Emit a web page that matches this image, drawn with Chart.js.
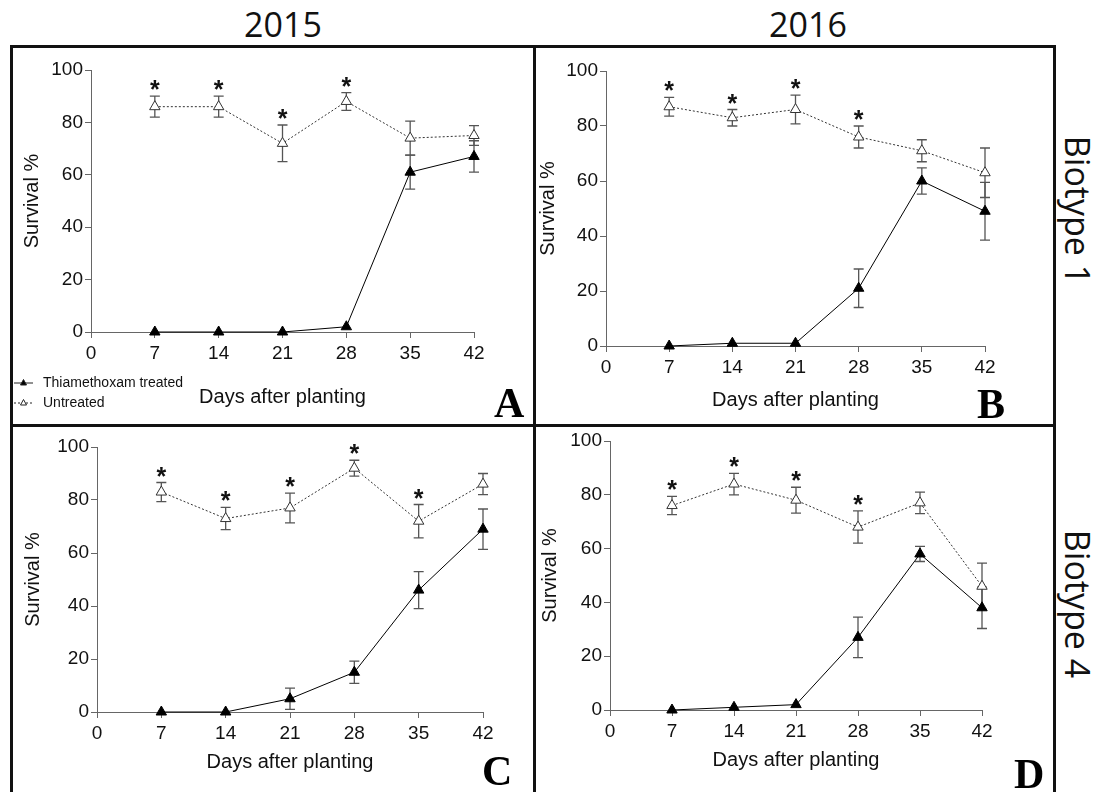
<!DOCTYPE html>
<html>
<head>
<meta charset="utf-8">
<script src="https://cdn.jsdelivr.net/npm/chart.js@4/dist/chart.umd.min.js"></script>
<style>
  body { margin: 0; background: #fff; width: 1099px; height: 792px; overflow: hidden; position: relative; }
  canvas { position: absolute; }
  .line { position: absolute; background: #111; }
  .head { position: absolute; font-family: "Open Sans", sans-serif; font-size: 34px; color: #111; }
  .side { position: absolute; font-family: "Open Sans", sans-serif; font-size: 34px; color: #111;
          transform: translate(-50%, -50%) rotate(90deg); white-space: nowrap; }
  .letter { position: absolute; font-family: "Liberation Serif", serif; font-weight: bold; font-size: 42px; color: #000; }
</style>
</head>
<body>
<div class="head" style="left:283px; top:24px; transform:translate(-50%,-50%)">2015</div>
<div class="head" style="left:808px; top:24px; transform:translate(-50%,-50%)">2016</div>
<div class="side" style="left:1078px; top:210px">Biotype 1</div>
<div class="side" style="left:1078px; top:604px">Biotype 4</div>

<canvas id="cA" width="519" height="375" style="left:13px; top:48px"></canvas>
<canvas id="cB" width="516" height="375" style="left:536px; top:48px"></canvas>
<canvas id="cC" width="519" height="365" style="left:13px; top:427px"></canvas>
<canvas id="cD" width="516" height="365" style="left:536px; top:427px"></canvas>

<div class="line" style="left:10px; top:45px; width:1046px; height:3px"></div>
<div class="line" style="left:10px; top:45px; width:3px; height:760px"></div>
<div class="line" style="left:1053px; top:45px; width:3px; height:760px"></div>
<div class="line" style="left:533px; top:45px; width:3px; height:760px"></div>
<div class="line" style="left:10px; top:424px; width:1046px; height:3px"></div>

<div class="letter" style="left:494px; top:379px">A</div>
<div class="letter" style="left:977px; top:380px">B</div>
<div class="letter" style="left:482px; top:747px">C</div>
<div class="letter" style="left:1014px; top:750px">D</div>

<script>
const days = [7, 14, 21, 28, 35, 42];
const xTicks = [0, 7, 14, 21, 28, 35, 42];
const yTicks = [0, 20, 40, 60, 80, 100];

// 2015, biotype 1
const treatedA = [0, 0, 0, 2, 61, 67];
const treatedErrA = [0, 0, 0, 0, 6.5, 6];
const untreatedA = [86, 86, 72, 88, 74, 75];
const untreatedErrA = [4, 4, 7, 3.4, 6.5, 3.8];
const sigA = [1, 1, 1, 1, 0, 0];

// 2016, biotype 1
const treatedB = [0, 1, 1, 21, 60, 49];
const treatedErrB = [0, 0, 0, 7, 4.8, 10.5];
const untreatedB = [87, 83, 86, 76, 71, 63];
const untreatedErrB = [3.4, 3, 5.2, 4, 4, 9];
const sigB = [1, 1, 1, 1, 0, 0];

// 2015, biotype 4
const treatedC = [0, 0, 5, 15, 46, 69];
const treatedErrC = [0, 0, 4, 4.2, 7, 7.6];
const untreatedC = [83, 73, 77, 92, 72, 86];
const untreatedErrC = [3.6, 4.2, 5.6, 3, 6.3, 4];
const sigC = [1, 1, 1, 1, 1, 0];

// 2016, biotype 4
const treatedD = [0, 1, 2, 27, 58, 38];
const treatedErrD = [0, 0, 0, 7.5, 2.8, 7.7];
const untreatedD = [76, 84, 78, 68, 77, 46];
const untreatedErrD = [3.4, 4, 4.8, 6, 4, 8.6];
const sigD = [1, 1, 1, 1, 0, 0];

const legendLabels = ["Thiamethoxam treated", "Untreated"];

const axisColor = "#666";
const tickFont = { family: "Liberation Sans, Arial, sans-serif", size: 19 };
const titleFont = { family: "Liberation Sans, Arial, sans-serif", size: 20 };

// error bars under the markers, asterisks and the small legend on top
const errorBars = {
  id: "errorBars",
  beforeDatasetsDraw(chart) {
    const { ctx, scales: { x, y } } = chart;
    ctx.save();
    ctx.strokeStyle = "#555";
    ctx.lineWidth = 1.3;
    chart.data.datasets.forEach((ds) => {
      ds.data.forEach((p, i) => {
        const e = ds.errors[i];
        if (!e) return;
        const px = x.getPixelForValue(p.x);
        const top = y.getPixelForValue(p.y + e);
        const bot = y.getPixelForValue(p.y - e);
        ctx.beginPath();
        ctx.moveTo(px, top); ctx.lineTo(px, bot);
        ctx.moveTo(px - 5, top); ctx.lineTo(px + 5, top);
        ctx.moveTo(px - 5, bot); ctx.lineTo(px + 5, bot);
        ctx.stroke();
      });
    });
    ctx.restore();
  },
  afterDatasetsDraw(chart) {
    const { ctx, scales: { x, y } } = chart;
    const ds = chart.data.datasets[1];
    const sig = chart.options.plugins.errorBars.sig;
    ctx.save();
    ctx.fillStyle = "#111";
    ctx.font = "bold 25px Liberation Sans, Arial, sans-serif";
    ctx.textAlign = "center";
    ctx.textBaseline = "alphabetic";
    ds.data.forEach((p, i) => {
      if (!sig[i]) return;
      const px = x.getPixelForValue(p.x);
      const top = y.getPixelForValue(p.y + ds.errors[i]);
      ctx.fillText("*", px, top + 2);
    });
    ctx.restore();
  },
  afterDraw(chart) {
    const leg = chart.options.plugins.errorBars.legend;
    if (!leg) return;
    const ctx = chart.ctx;
    ctx.save();
    ctx.font = "14px Liberation Sans, Arial, sans-serif";
    ctx.textBaseline = "middle";
    ctx.fillStyle = "#111";
    const rows = [335, 355];
    rows.forEach((ry, k) => {
      ctx.strokeStyle = "#222";
      ctx.lineWidth = 1;
      ctx.setLineDash(k ? [2, 2] : []);
      ctx.beginPath();
      ctx.moveTo(1, ry); ctx.lineTo(20, ry);
      ctx.stroke();
      ctx.setLineDash([]);
      ctx.beginPath();
      ctx.moveTo(10.5, ry - 3.5); ctx.lineTo(13.5, ry + 2); ctx.lineTo(7.5, ry + 2); ctx.closePath();
      ctx.fillStyle = k ? "#fff" : "#000";
      ctx.fill();
      ctx.stroke();
      ctx.fillStyle = "#111";
      ctx.fillText(legendLabels[k], 30, ry);
    });
    ctx.restore();
  }
};

function pts(vals) {
  return vals.map((v, i) => ({ x: days[i], y: v }));
}

function makePanel(id, treated, treatedErr, untreated, untreatedErr, sig, geo) {
  new Chart(document.getElementById(id), {
    type: "line",
    data: {
      datasets: [
        {
          label: legendLabels[0],
          data: pts(treated),
          errors: treatedErr,
          borderColor: "#000",
          borderWidth: 1,
          pointStyle: "triangle",
          pointRadius: 6,
          pointBackgroundColor: "#000",
          pointBorderColor: "#000",
          pointBorderWidth: 1,
          clip: false,
          tension: 0,
        },
        {
          label: legendLabels[1],
          data: pts(untreated),
          errors: untreatedErr,
          borderColor: "#333",
          borderWidth: 1,
          borderDash: [2, 2],
          pointStyle: "triangle",
          pointRadius: 6,
          pointBackgroundColor: "#fff",
          pointBorderColor: "#333",
          pointBorderWidth: 1,
          clip: false,
          tension: 0,
        },
      ],
    },
    options: {
      responsive: false,
      animation: false,
      events: [],
      layout: { padding: { left: 0, top: geo.top, right: geo.right, bottom: 0 } },
      scales: {
        x: {
          type: "linear",
          min: 0,
          max: 42,
          afterBuildTicks: (s) => { s.ticks = xTicks.map((v) => ({ value: v })); },
          afterFit: (s) => { s.height = geo.xH; },
          border: { color: axisColor, width: 1 },
          grid: { drawOnChartArea: false, color: axisColor, tickLength: 6 },
          ticks: { font: tickFont, color: "#111", padding: 4, maxRotation: 0 },
          title: { display: true, text: "Days after planting", font: titleFont, color: "#111",
                   padding: { top: 0, bottom: geo.xTitlePad } },
        },
        y: {
          min: 0,
          max: 100,
          afterBuildTicks: (s) => { s.ticks = yTicks.map((v) => ({ value: v })); },
          afterFit: (s) => { s.width = geo.yW; },
          border: { color: axisColor, width: 1 },
          grid: { drawOnChartArea: false, color: axisColor, tickLength: 6 },
          ticks: { font: tickFont, color: "#111", padding: 2 },
          title: { display: true, text: "Survival %", font: titleFont, color: "#111",
                   padding: { top: geo.yTitlePad, bottom: 0 } },
        },
      },
      plugins: {
        legend: { display: false },
        tooltip: { enabled: false },
        errorBars: { sig: sig, legend: geo.legend },
      },
    },
    plugins: [errorBars],
  });
}

makePanel("cA", treatedA, treatedErrA, untreatedA, untreatedErrA, sigA,
  { top: 22, right: 58, xH: 91, yW: 78, yTitlePad: 7, xTitlePad: 14, legend: true });
makePanel("cB", treatedB, treatedErrB, untreatedB, untreatedErrB, sigB,
  { top: 23, right: 67, xH: 77, yW: 70, yTitlePad: 0, xTitlePad: 11, legend: false });
makePanel("cC", treatedC, treatedErrC, untreatedC, untreatedErrC, sigC,
  { top: 20, right: 49, xH: 80, yW: 84, yTitlePad: 8, xTitlePad: 18, legend: false });
makePanel("cD", treatedD, treatedErrD, untreatedD, untreatedErrD, sigD,
  { top: 14, right: 70, xH: 82, yW: 74, yTitlePad: 2, xTitlePad: 20, legend: false });
</script>
</body>
</html>
